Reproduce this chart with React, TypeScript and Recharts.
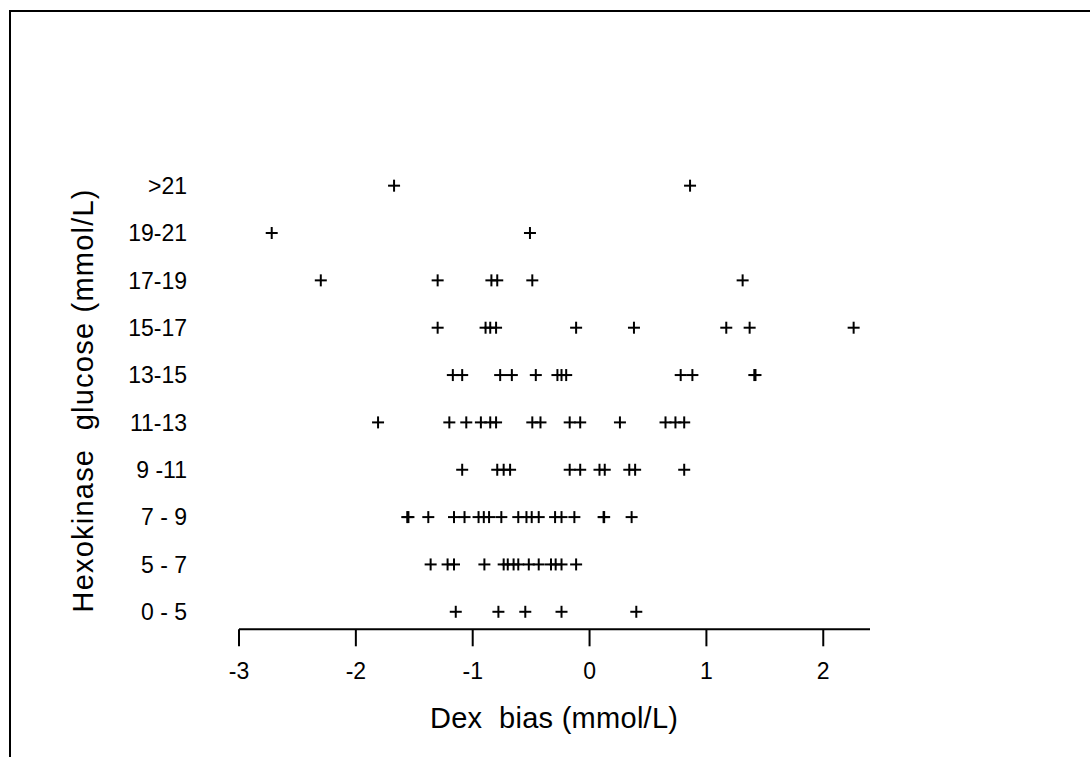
import React from 'react';
import { ScatterChart, Scatter, XAxis, YAxis, Label } from 'recharts';

// glucose bands, bottom to top
const bands = ['0 - 5', '5 - 7', '7 - 9', '9 -11', '11-13', '13-15', '15-17', '17-19', '19-21', '>21'];

// Dex bias (mmol/L) per band
const bias0to5 = [-1.145, -0.78, -0.55, -0.24, 0.4];
const bias5to7 = [-1.36, -1.215, -1.16, -0.9, -0.735, -0.7, -0.65, -0.61, -0.52, -0.435, -0.33, -0.29, -0.24, -0.115];
const bias7to9 = [-1.56, -1.55, -1.38, -1.16, -1.07, -0.95, -0.905, -0.86, -0.755, -0.61, -0.54, -0.495, -0.435, -0.295, -0.24, -0.13, 0.12, 0.125, 0.36];
const bias9to11 = [-1.09, -0.79, -0.735, -0.68, -0.17, -0.08, 0.085, 0.13, 0.34, 0.39, 0.81];
const bias11to13 = [-1.81, -1.2, -1.055, -0.93, -0.85, -0.8, -0.49, -0.42, -0.17, -0.08, 0.26, 0.65, 0.735, 0.81];
const bias13to15 = [-1.17, -1.09, -0.765, -0.665, -0.46, -0.275, -0.24, -0.2, 0.78, 0.88, 1.41, 1.42];
const bias15to17 = [-1.3, -0.89, -0.85, -0.8, -0.115, 0.38, 1.17, 1.37, 2.26];
const bias17to19 = [-2.3, -1.3, -0.84, -0.79, -0.49, 1.31];
const bias19to21 = [-2.72, -0.51];
const biasOver21 = [-1.673, 0.86];

const xTicks = [-3, -2, -1, 0, 1, 2];

const rows = [bias0to5, bias5to7, bias7to9, bias9to11, bias11to13, bias13to15, bias15to17, bias17to19, bias19to21, biasOver21];
const points = rows.flatMap((vals, i) => vals.map((v) => ({ x: v, y: i })));

const font = '"Liberation Sans", Arial, sans-serif';

const PlusMark = (props: any) => {
  const { cx, cy } = props;
  if (cx == null || cy == null) return null;
  const h = 6;
  return (
    <g stroke="#000" strokeWidth={2}>
      <line x1={cx - h} y1={cy} x2={cx + h} y2={cy} />
      <line x1={cx} y1={cy - h} x2={cx} y2={cy + h} />
    </g>
  );
};

const XTitle = () => (
  <text x={554} y={728} textAnchor="middle" fontSize={29} fontFamily={font} fill="#000"
    style={{ whiteSpace: 'pre' }} textLength={248} lengthAdjust="spacing">
    {'Dex  bias (mmol/L)'}
  </text>
);

const YTitle = () => (
  <text x={93} y={401} transform="rotate(-90, 93, 401)" textAnchor="middle" fontSize={29} fontFamily={font}
    fill="#000" style={{ whiteSpace: 'pre' }} textLength={423} lengthAdjust="spacing">
    {'Hexokinase  glucose (mmol/L)'}
  </text>
);

export default function App() {
  return (
    <div style={{ position: 'fixed', left: 0, top: 0, width: 1090, height: 757, overflow: 'hidden', background: '#fff' }}>
      <div style={{ position: 'absolute', left: 9, top: 10, right: -10, bottom: -10, borderLeft: '2px solid #000', borderTop: '2px solid #000' }} />
      <div style={{ position: 'absolute', left: 0, top: 0 }}>
        <ScatterChart width={1090} height={757} margin={{ top: 162, right: 220, bottom: 0, left: 0 }}>
          <XAxis type="number" dataKey="x" domain={[-3, 2.4]} ticks={xTicks} allowDataOverflow
            height={127.7} axisLine={{ stroke: '#000', strokeWidth: 2 }} tickLine={{ stroke: '#000', strokeWidth: 2 }}
            tickSize={17} tickMargin={16} tick={{ fill: '#000', fontSize: 23, fontFamily: font }}>
            <Label content={<XTitle />} />
          </XAxis>
          <YAxis type="number" dataKey="y" domain={[-0.37, 9.5]} ticks={[0, 1, 2, 3, 4, 5, 6, 7, 8, 9]} interval={0}
            width={239} axisLine={false} tickLine={false} tickSize={0} tickMargin={52}
            tickFormatter={(v: number) => bands[v]} tick={{ fill: '#000', fontSize: 23, fontFamily: font }}>
            <Label content={<YTitle />} />
          </YAxis>
          <Scatter data={points} shape={<PlusMark />} isAnimationActive={false} />
        </ScatterChart>
      </div>
    </div>
  );
}
